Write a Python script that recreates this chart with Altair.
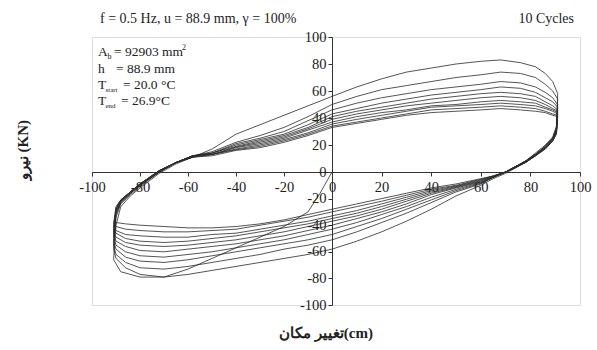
import altair as alt
import pandas as pd

# displacement positions (mm) along each branch
X_INIT = [0, -5, -10, -20, -30, -40, -50, -60, -70, -80, -88, -91]
Y_INIT = [0, -16, -30, -41, -49, -57, -65, -73, -79, -79, -75, -66]

X_UP = [-91, -90, -88, -84, -80, -72, -65, -58, -50, -40, -30, -20, -10, 0,
        10, 20, 30, 40, 50, 60, 68, 76, 82, 86, 89, 91]
X_DN = [91, 90.5, 89, 86, 82, 78, 74, 70, 65, 60, 50, 40, 30, 20, 10, 0,
        -10, -20, -30, -40, -50, -60, -70, -80, -86, -90, -91]

UP1 = [-66, -40, -26, -18, -12, -1, 6, 11, 17, 28, 35, 42, 49, 56, 63, 69, 74, 77, 80, 82, 83, 81, 78, 73, 67, 58]
UP2 = [-58, -34, -24, -17, -11, 0, 7, 12, 15, 22, 27, 33, 41, 50, 56, 61, 64, 67, 70, 72, 74, 73, 70, 65, 60, 54]
UP3 = [-55, -32, -23, -16, -10, 0, 7, 12, 14, 21, 25, 30, 38, 46, 51, 55, 58, 61, 63, 65, 67, 66, 63, 59, 55, 50]
UP4 = [-52, -31, -23, -16, -10, 0, 7, 12, 14, 20, 24, 28, 35, 43, 47, 51, 54, 57, 59, 61, 63, 62, 59, 55, 52, 48]
UP5 = [-49, -30, -22, -16, -10, 0, 7, 12, 14, 19, 23, 27, 33, 41, 45, 48, 51, 54, 56, 58, 59, 58, 56, 52, 49, 46]
UP6 = [-47, -29, -22, -15, -9, 0, 7, 12, 13, 18.5, 22, 26, 32, 39, 43, 46, 49, 51, 53, 55, 56, 55, 53, 50, 47, 45]
UP7 = [-45, -28, -22, -15, -9, 1, 7, 12, 13, 18, 21, 25, 31, 37, 41, 44, 46, 49, 50, 52, 53, 52, 51, 48, 46, 44]
UP8 = [-43, -28, -21, -15, -9, 1, 7, 11, 13, 17, 20, 24, 29, 35.5, 39, 42, 45, 48, 49, 50, 51, 50, 49, 47, 45, 43]
UP9 = [-41, -27, -21, -15, -9, 1, 7, 11, 13, 16.5, 19, 23, 28, 34, 37, 40, 43, 46, 47, 48, 49, 48, 47, 45, 43, 42]
UP10 = [-39, -26, -21, -15, -9, 1, 7, 11, 12, 16, 18, 22, 27, 33, 36, 39, 42, 44, 45, 46, 47, 46, 45, 44, 42, 41]

DN1 = [58, 34, 26, 20, 14, 8, 3, -1, -5, -10, -18, -28, -37, -45, -52, -58, -62, -65, -68, -71, -74, -77, -79, -77, -72, -65, -58]
DN2 = [54, 33, 25, 19, 13, 8, 4, 0, -4, -9, -15, -23, -31, -38, -45, -51, -55, -58, -62, -65, -68, -71, -73, -72, -68, -62, -55]
DN3 = [50, 32, 25, 19, 13, 8, 4, 0, -4, -8.5, -14, -21, -28, -35, -41, -47, -51, -54, -57, -60, -63, -66, -68, -67, -64, -58, -52]
DN4 = [48, 31, 25, 19, 13, 8, 4, 0, -4, -8, -13, -19, -26, -32, -38, -43, -47, -51, -54, -57, -60, -62, -64, -63, -60, -55, -49]
DN5 = [46, 31, 24, 18, 13, 8, 4, 0, -4, -7.5, -12, -17, -24, -30, -35, -40, -44, -48, -51, -54, -56, -58, -60, -59, -56, -52, -47]
DN6 = [45, 30, 24, 18, 12, 8, 4, 0, -3.5, -7, -11.5, -16, -22, -28, -33, -37, -41, -45, -48, -51, -53, -55, -56, -55, -53, -49, -45]
DN7 = [44, 30, 24, 18, 12, 7, 4, 0, -3.5, -6.5, -11, -15, -20.5, -26, -31, -35, -39, -42, -45, -48, -50, -52, -53, -52, -50, -46, -43]
DN8 = [43, 29, 23, 18, 12, 7, 3.5, 0, -3, -6, -10.5, -14, -19, -24, -29, -33, -37, -40, -43, -46, -47, -49, -49, -48, -47, -44, -41]
DN9 = [42, 29, 23, 17, 12, 7, 3.5, 0, -3, -5.5, -10, -13, -17.5, -22, -26, -30, -34, -37, -40, -43, -44, -45, -45, -44, -43, -41, -39]
DN10 = [41, 28, 23, 17, 12, 7, 3, 0, -3, -5, -9, -12, -16, -20, -24, -28, -32, -36, -39, -41, -42, -42, -41, -40, -39, -38, -37]

UPS = [UP1, UP2, UP3, UP4, UP5, UP6, UP7, UP8, UP9, UP10]
DNS = [DN1, DN2, DN3, DN4, DN5, DN6, DN7, DN8, DN9, DN10]

TICKS = [-100, -80, -60, -40, -20, 0, 20, 40, 60, 80, 100]

rows = []
for i, (xv, yv) in enumerate(zip(X_INIT, Y_INIT)):
    rows.append({"x": xv, "y": yv, "seg": 0, "i": i})
for k in range(10):
    n = 0
    for xv, yv in zip(X_UP, UPS[k]):
        rows.append({"x": xv, "y": yv, "seg": k + 1, "i": n}); n += 1
    for xv, yv in zip(X_DN, DNS[k]):
        rows.append({"x": xv, "y": yv, "seg": k + 1, "i": n}); n += 1
df = pd.DataFrame(rows)

W, H = 488, 268
SERIF = "Liberation Serif"

x_scale = alt.Scale(domain=[-100, 0, 100], range=[0, 240, W], nice=False, zero=False)
y_scale = alt.Scale(domain=[-100, 0, 100], range=[H, 135, 0], nice=False, zero=False)

ax_common = dict(values=TICKS, grid=False, title=None, labelFont=SERIF,
                 labelFontSize=14.5, labelColor="#222", tickColor="#333",
                 domainColor="#333", tickSize=4, labelFlush=False,
                 labelOverlap=False, labelExpr="'' + datum.value")

lines = alt.Chart(df).mark_line(color="#2a2a2a", strokeWidth=0.8).encode(
    x=alt.X("x:Q", scale=x_scale, axis=alt.Axis(offset=-(H - 135), labelPadding=4, **ax_common)),
    y=alt.Y("y:Q", scale=y_scale, axis=alt.Axis(offset=-240, labelPadding=2, **ax_common)),
    detail="seg:N",
    order="i:Q",
)

one = pd.DataFrame({"a": [0]})


def txt(s, x, y, size=13.5, align="left", angle=0, weight="normal", baseline="alphabetic"):
    kw = dict(text=s, font=SERIF, fontSize=size, align=align, baseline=baseline,
              color="#222", fontWeight=weight)
    if angle:
        kw["angle"] = angle
    return alt.Chart(one).mark_text(**kw).encode(x=alt.value(x), y=alt.value(y))


texts = [
    txt("f = 0.5 Hz, u = 88.9 mm, γ = 100%", 8, -14, size=14),
    txt("10 Cycles", 482, -14, size=14, align="right"),
    # annotation box
    txt("A", 6, 19),
    txt("b", 15.5, 22, size=8),
    txt("= 92903 mm", 22, 19),
    txt("2", 90, 13, size=8),
    txt("h", 6, 36),
    txt("= 88.9 mm", 24, 36),
    txt("T", 6, 52),
    txt("start", 13.5, 55, size=7),
    txt("= 20.0 °C", 31, 52),
    txt("T", 6, 68),
    txt("end", 13.5, 71, size=7),
    txt("= 26.9°C", 29, 68),
    # axis titles
    txt("تغییر مکان(cm)", 234, 301, size=15, align="center", weight="bold"),
    txt("نیرو (KN)", -69, 113, size=15, align="center", angle=270, weight="bold",
        baseline="middle"),
]

chart = alt.layer(lines, *texts).properties(
    width=W, height=H,
    autosize=alt.AutoSizeParams(type="none"),
    padding={"left": 92, "top": 37, "right": 17, "bottom": 45},
).configure_view(stroke="#444", strokeWidth=1).configure(background="white")

chart.save("out.html", embed_options={"renderer": "svg", "actions": False})
